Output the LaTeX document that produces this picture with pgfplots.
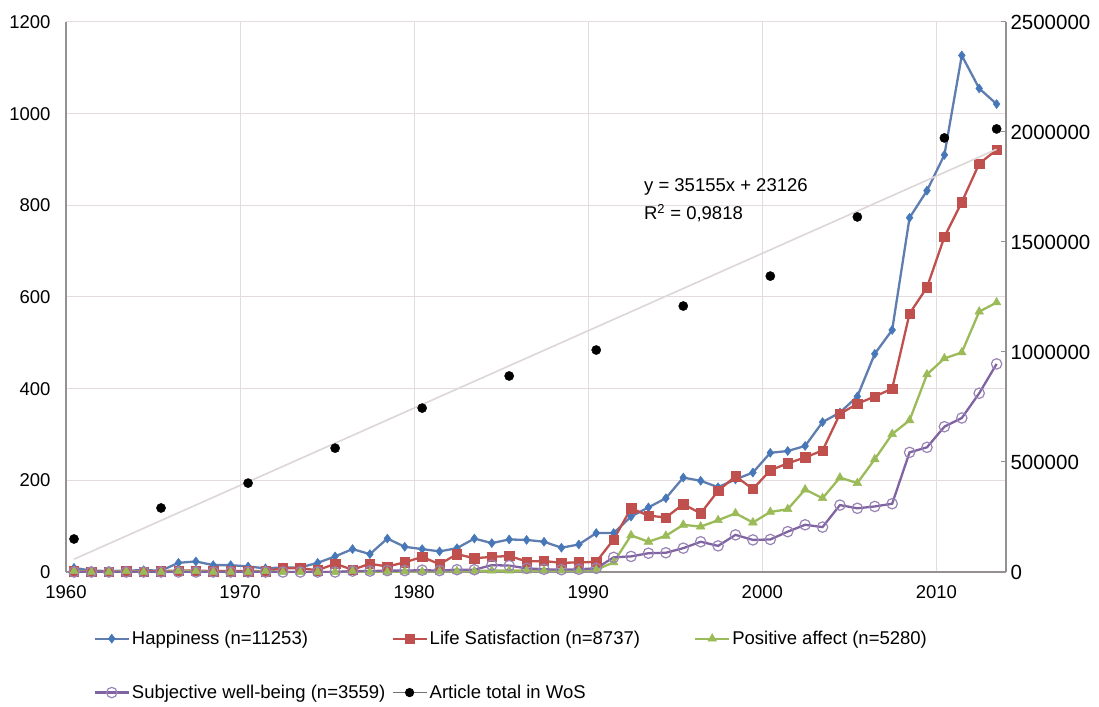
\documentclass[border=0pt]{standalone}
\usepackage{fontspec}
\setmainfont{Liberation Sans}
\usepackage{pgfplots}
\usepackage{pgfplotstable}
\pgfplotsset{compat=1.18}

\definecolor{gridc}{RGB}{228,220,220}
\definecolor{axc}{RGB}{150,145,145}
\definecolor{hapl}{RGB}{95,125,175}
\definecolor{hapm}{RGB}{70,120,185}
\definecolor{lsc}{RGB}{192,80,77}
\definecolor{pac}{RGB}{155,187,89}
\definecolor{swc}{RGB}{128,100,162}
\definecolor{trc}{RGB}{222,214,214}

\pgfplotstableread{
year H LS PA SWB
1960 9 2 2 0
1961 3 1 0 0
1962 2 1 0 0
1963 3 2 2 0
1964 4 1 0 0
1965 3 2 0 0
1966 20 3 2 0
1967 23 3 2 0
1968 15 2 0 0
1969 15 2 0 0
1970 12 2 0 0
1971 8 2 2 0
1972 10 8 0 0
1973 10 8 0 0
1974 20 4 0 0
1975 34 18 0 0
1976 50 5 2 2
1977 39 18 0 2
1978 73 12 0 3
1979 55 21 1 3
1980 50 33 1 4
1981 45 17 1 3
1982 52 39 2 5
1983 73 30 2 5
1984 63 33 3 15
1985 71 35 3 14
1986 70 23 3 8
1987 66 24 3 6
1988 53 20 3 5
1989 60 21 3 6
1990 85 22 5 8
1991 85 71 21 32
1992 121 139 80 34
1993 141 123 66 41
1994 161 119 79 42
1995 206 148 103 52
1996 199 128 99 66
1997 185 177 113 57
1998 202 209 128 81
1999 217 181 108 70
2000 260 222 131 71
2001 264 237 137 88
2002 275 250 180 103
2003 327 265 161 98
2004 348 345 206 146
2005 383 367 194 139
2006 476 383 246 143
2007 528 400 301 149
2008 773 564 331 261
2009 832 621 431 272
2010 910 731 466 317
2011 1127 807 479 336
2012 1055 891 568 390
2013 1021 921 588 454
}\series

\pgfplotstableread{
year WoS
1960 150000
1965 291000
1970 404000
1975 563000
1980 745000
1985 891000
1990 1009000
1995 1209000
2000 1345000
2005 1614000
2010 1973000
2013 2014000
}\wos

\begin{document}
\begin{tikzpicture}[font=\fontsize{18.5}{22}\selectfont]
\begin{axis}[
  scale only axis, width=940pt, height=550pt,
  xmin=1960, xmax=2014, ymin=0, ymax=1200,
  axis x line*=bottom, axis y line*=left,
  xtick={1960,1970,...,2010}, ytick={0,200,...,1200},
  grid=major, major grid style={draw=gridc, line width=1pt},
  axis line style={draw=axc, line width=1.6pt},
  major tick length=0pt,
  tick label style={font=\fontsize{18.5}{22}\selectfont},
  /pgf/number format/assume math mode=true,
  /pgf/number format/1000 sep={},
  yticklabel style={xshift=-12pt},
  xticklabel style={yshift=-10pt},
  legend image code/.code={\draw[mark repeat=2,mark phase=2] plot coordinates {(0pt,0pt)(17pt,0pt)(34pt,0pt)};},
  legend style={draw=none, fill=none, font=\fontsize{18.5}{22}\selectfont,
    at={(axis description cs:0.026,-0.1)}, anchor=north west,
    legend columns=3, legend cell align=left,
    /tikz/row sep=35pt,
    /tikz/column 2/.style={column sep=4pt},
    /tikz/column 4/.style={column sep=52pt}},
]
\addplot[hapl, line width=2.3pt, mark=diamond*, mark size=4.5pt, mark options={fill=hapm, draw=hapm, line width=0.5pt}] table[x expr=\thisrow{year}+0.46, y=H] {\series};
\addlegendentry{Happiness (n=11253)}
\addplot[lsc, line width=2.3pt, mark=square*, mark size=4.7pt, mark options={fill=lsc, draw=lsc, line width=0.5pt}] table[x expr=\thisrow{year}+0.46, y=LS] {\series};
\addlegendentry{Life Satisfaction (n=8737)}
\addplot[pac, line width=2.3pt, mark=triangle*, mark size=5pt, mark options={fill=pac, draw=pac, line width=0.5pt}] table[x expr=\thisrow{year}+0.46, y=PA] {\series};
\addlegendentry{Positive affect (n=5280)}
\addplot[swc, line width=2.3pt, mark=o, mark size=5.2pt, mark options={draw=swc!80, line width=1.2pt, fill=white, fill opacity=0.3}] table[x expr=\thisrow{year}+0.46, y=SWB] {\series};
\addlegendentry{Subjective well-being (n=3559)}
\addlegendimage{black!55, line width=1.2pt, mark=*, mark size=4pt, mark options={fill=black, draw=black}}
\addlegendentry{Article total in WoS}
\end{axis}
\begin{axis}[
  scale only axis, width=940pt, height=550pt,
  xmin=1960, xmax=2014, ymin=0, ymax=2500000,
  axis y line*=right, axis x line=none,
  ytick={0,500000,1000000,1500000,2000000,2500000},
  scaled y ticks=false,
  axis line style={draw=axc, line width=1.6pt},
  major tick length=5pt, tick style={draw=axc, line width=1pt},
  tick label style={font=\fontsize{20.5}{24}\selectfont},
  /pgf/number format/assume math mode=true,
  yticklabel style={/pgf/number format/fixed, /pgf/number format/1000 sep={}, xshift=1pt},
]
\addplot[trc, line width=1.6pt, no marks] coordinates {(1960.46,58281) (2013.46,1921496)};
\addplot[only marks, mark=*, mark size=4.6pt, black] table[x expr=\thisrow{year}+0.46, y=WoS] {\wos};
\node[anchor=west, inner sep=0pt] at (axis cs:1993.2,1750000) {y = 35155x + 23126};
\node[anchor=west, inner sep=0pt] at (axis cs:1993.2,1632000) {R\textsuperscript{2} = 0,9818};
\end{axis}
\path[use as bounding box] (-66pt,-134pt) rectangle (1033pt,572pt);
\end{tikzpicture}
\end{document}
